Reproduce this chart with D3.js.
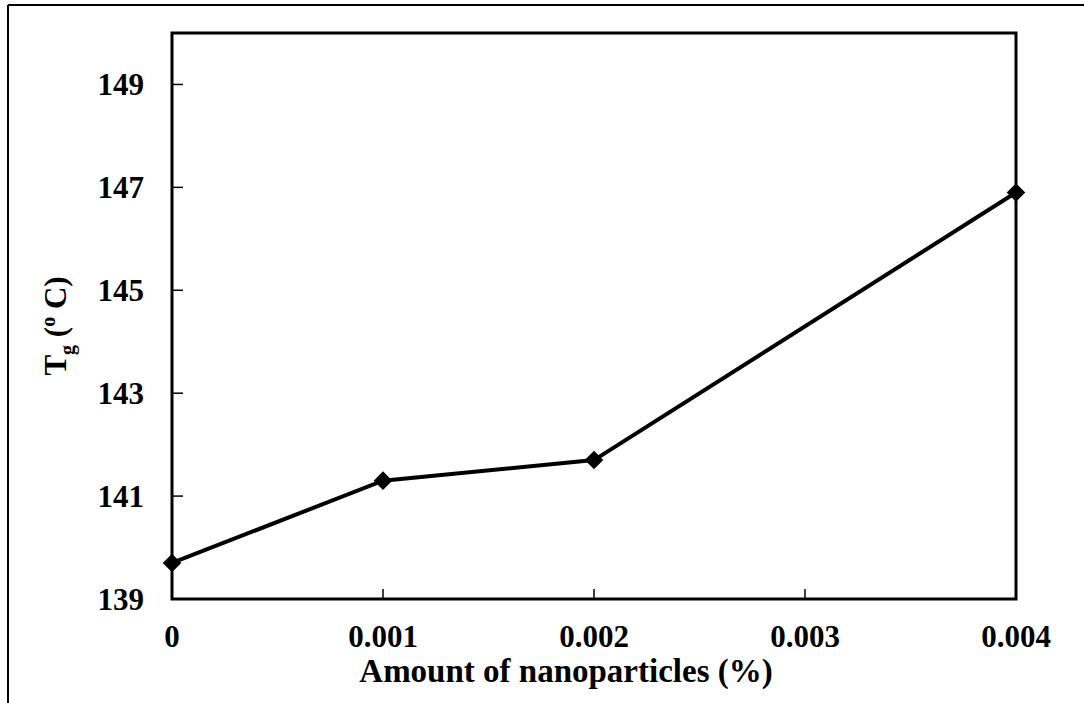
<!DOCTYPE html>
<html>
<head>
<meta charset="utf-8">
<script src="https://cdn.jsdelivr.net/npm/d3@7"></script>
<style>
  body { margin: 0; background: #fff; }
  svg text { font-family: "Liberation Serif", "Times New Roman", serif; font-weight: bold; fill: #000; }
</style>
</head>
<body>
<div id="chart"></div>
<script>
var amounts = [0, 0.001, 0.002, 0.004];
var tgValues = [139.7, 141.3, 141.7, 146.9];
var xTicks = [0, 0.001, 0.002, 0.003, 0.004];
var yTicks = [139, 141, 143, 145, 147, 149];

var width = 1084, height = 703;
var plotLeft = 172, plotRight = 1016, plotTop = 33, plotBottom = 599;

var svg = d3.select('#chart').append('svg')
  .attr('width', width)
  .attr('height', height);

// outer frame (top and left edge only)
svg.append('line').attr('x1', 8).attr('y1', 5).attr('x2', width).attr('y2', 5)
  .attr('stroke', '#000').attr('stroke-width', 2);
svg.append('line').attr('x1', 8).attr('y1', 5).attr('x2', 8).attr('y2', height)
  .attr('stroke', '#000').attr('stroke-width', 2);

var x = d3.scaleLinear().domain([0, 0.004]).range([plotLeft, plotRight]);
var y = d3.scaleLinear().domain([139, 150]).range([plotBottom, plotTop]);

// ticks, pointing inward
svg.selectAll('.ytick').data(yTicks).enter().append('line')
  .attr('x1', plotLeft).attr('x2', plotLeft + 11)
  .attr('y1', function(d) { return y(d); })
  .attr('y2', function(d) { return y(d); })
  .attr('stroke', '#000').attr('stroke-width', 1.5);

svg.selectAll('.xtick').data(xTicks).enter().append('line')
  .attr('x1', function(d) { return x(d); })
  .attr('x2', function(d) { return x(d); })
  .attr('y1', plotBottom).attr('y2', plotBottom - 10)
  .attr('stroke', '#000').attr('stroke-width', 1.5);

svg.selectAll('.ylab').data(yTicks).enter().append('text')
  .attr('x', 144)
  .attr('y', function(d) { return y(d); })
  .attr('dy', '0.35em')
  .attr('text-anchor', 'end')
  .style('font-size', '31px')
  .text(function(d) { return d; });

svg.selectAll('.xlab').data(xTicks).enter().append('text')
  .attr('x', function(d) { return x(d); })
  .attr('y', 647)
  .attr('text-anchor', 'middle')
  .style('font-size', '31px')
  .text(function(d) { return d === 0 ? '0' : d3.format('.3f')(d); });

// plot frame
svg.append('rect')
  .attr('x', plotLeft).attr('y', plotTop)
  .attr('width', plotRight - plotLeft).attr('height', plotBottom - plotTop)
  .attr('fill', 'none').attr('stroke', '#000').attr('stroke-width', 3);

var pts = amounts.map(function(a, i) { return [a, tgValues[i]]; });

var line = d3.line()
  .x(function(d) { return x(d[0]); })
  .y(function(d) { return y(d[1]); });

svg.append('path')
  .datum(pts)
  .attr('d', line)
  .attr('fill', 'none')
  .attr('stroke', '#000')
  .attr('stroke-width', 4);

svg.selectAll('.pt').data(pts).enter().append('path')
  .attr('d', d3.symbol().type(d3.symbolDiamond2).size(220))
  .attr('transform', function(d) { return 'translate(' + x(d[0]) + ',' + y(d[1]) + ')'; })
  .attr('fill', '#000');

// axis titles
svg.append('text')
  .attr('x', 566)
  .attr('y', 682)
  .attr('text-anchor', 'middle')
  .style('font-size', '33px')
  .text('Amount of nanoparticles (%)');

var yt = svg.append('text')
  .attr('transform', 'translate(66,326) rotate(-90)')
  .attr('text-anchor', 'middle')
  .style('font-size', '31px');
yt.append('tspan').text('T');
yt.append('tspan').attr('dy', 8).style('font-size', '20px').text('g');
yt.append('tspan').attr('dy', -8).text(' (');
yt.append('tspan').attr('dy', -11).style('font-size', '20px').text('o');
yt.append('tspan').attr('dy', 11).text(' C)');
</script>
</body>
</html>
